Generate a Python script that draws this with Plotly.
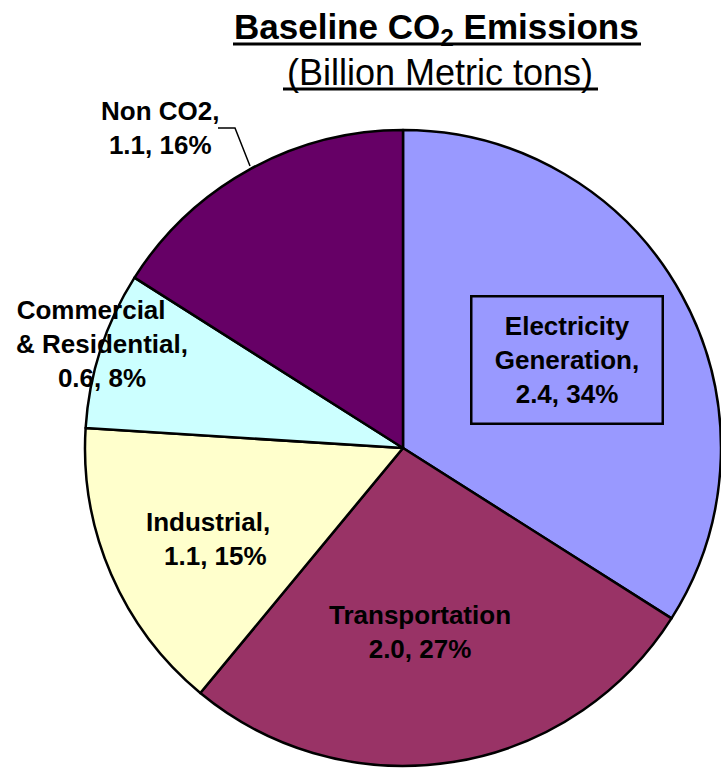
import plotly.graph_objects as go

W, H = 721, 770
OFF = 0  # body margin removed via post_script

categories = ["Electricity Generation", "Transportation", "Industrial",
              "Commercial & Residential", "Non CO2"]
emissions = [2.4, 2.0, 1.1, 0.6, 1.1]          # billion metric tons
shares = [34, 27, 15, 8, 16]                    # percent
colors = ["#9999FF", "#993366", "#FFFFCC", "#CCFFFF", "#660066"]
label_lines = [["Electricity", "Generation,"], ["Transportation"], ["Industrial,&nbsp;&nbsp;"],
               ["Commercial&nbsp;&nbsp;&nbsp;", "& Residential,"], ["Non CO2,"]]

def px(x, y):
    """page pixel -> paper coords"""
    return (x - OFF) / W, 1 - (y - OFF) / H

def fx(x):
    return (x - OFF) / W

def fy(y):
    return 1 - (y - OFF) / H

fig = go.Figure(go.Pie(
    labels=categories,
    values=shares,
    sort=False,
    direction="clockwise",
    rotation=0,
    marker=dict(colors=colors, line=dict(color="black", width=2.5)),
    textinfo="none",
    hoverinfo="label+value",
    showlegend=False,
    domain=dict(x=[fx(85), 1.0], y=[fy(768), fy(128)]),
))

font = dict(family="Liberation Sans, Arial, sans-serif", color="black")

def label_text(i):
    lines = list(label_lines[i])
    lines.append(f"{emissions[i]:.1f}, {shares[i]}%")
    return "<b>" + "<br>".join(lines) + "</b>"

# label centres (page pixels)
label_pos = [(567, 360), (420, 632), (216, 539), (102, 344), (160, 128)]

annotations = []
for i, (lx, ly) in enumerate(label_pos):
    x, y = px(lx, ly)
    a = dict(x=x, y=y, xref="paper", yref="paper", text=label_text(i),
             showarrow=False, align="center", xanchor="center", yanchor="middle",
             font=dict(size=26, **font))
    if i == 0:
        a.update(width=189, height=125, borderpad=0, bordercolor="black", borderwidth=2.5)
    annotations.append(a)

# title lines
annotations.append(dict(x=fx(437), y=fy(29), xref="paper", yref="paper", showarrow=False,
                        text="<b>Baseline CO<sub>2</sub> Emissions</b>",
                        xanchor="center", yanchor="middle", font=dict(size=35, **font)))
annotations.append(dict(x=fx(440), y=fy(73), xref="paper", yref="paper", showarrow=False,
                        text="(Billion Metric tons)",
                        xanchor="center", yanchor="middle", font=dict(size=36, **font)))

shapes = []
# title underlines
for (x0, x1, y) in [(233, 641, 44), (283, 598, 89)]:
    shapes.append(dict(type="line", xref="paper", yref="paper",
                       x0=fx(x0), x1=fx(x1), y0=fy(y), y1=fy(y),
                       line=dict(color="black", width=3)))

# leader line for Non CO2 label
p1, p2, p3 = px(218, 128), px(235, 128), px(250, 166)
shapes.append(dict(type="path", xref="paper", yref="paper",
                   path=f"M {p1[0]},{p1[1]} L {p2[0]},{p2[1]} L {p3[0]},{p3[1]}",
                   line=dict(color="black", width=1.5)))

fig.update_layout(
    width=W, height=H,
    margin=dict(l=0, r=0, t=0, b=0),
    paper_bgcolor="white", plot_bgcolor="white",
    annotations=annotations, shapes=shapes,
)

fig.write_html("out.html",
               config={"displayModeBar": False},
               post_script="document.body.style.margin='0';document.body.style.overflow='hidden';")
